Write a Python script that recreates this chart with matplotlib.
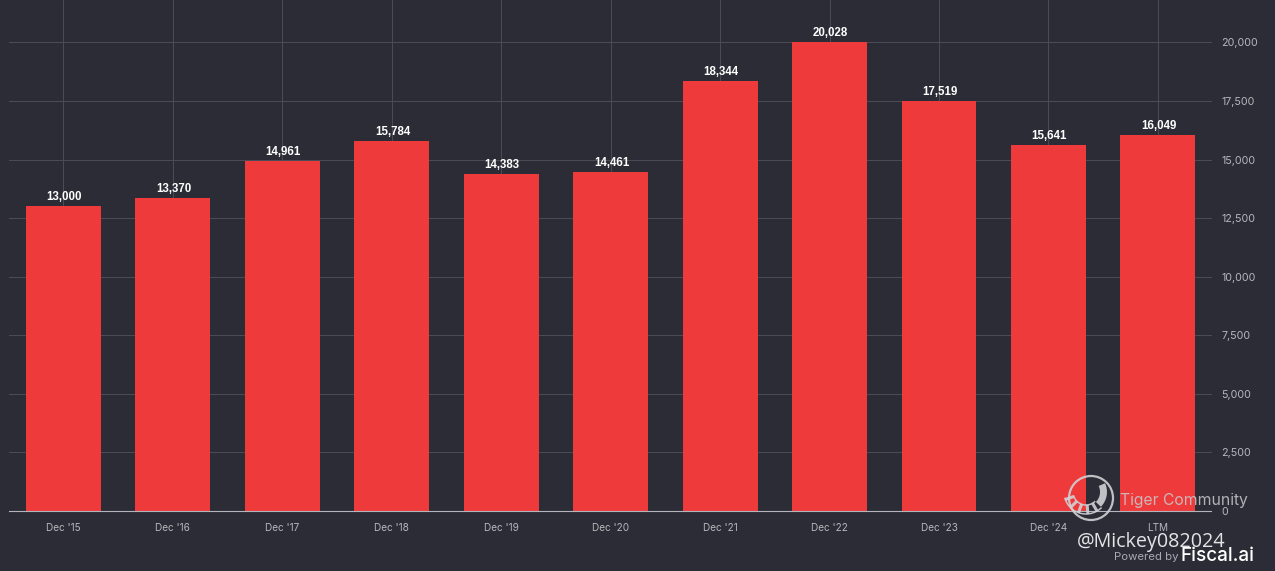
import numpy as np
import matplotlib
matplotlib.use("Agg")
import matplotlib.pyplot as plt
from matplotlib.patches import Circle, Arc

# -----------------------------
# 1. Data
# -----------------------------
periods = ["Dec '15", "Dec '16", "Dec '17", "Dec '18", "Dec '19", "Dec '20",
           "Dec '21", "Dec '22", "Dec '23", "Dec '24", "LTM"]
values = [13000, 13370, 14961, 15784, 14383, 14461, 18344, 20028, 17519, 15641, 16049]
y_ticks = [0, 2500, 5000, 7500, 10000, 12500, 15000, 17500, 20000]

# -----------------------------
# 2. Figure and axes
# -----------------------------
W, H = 1275, 571
bg = "#2b2c35"
fig = plt.figure(figsize=(W / 100, H / 100), dpi=100, facecolor=bg)
ax = fig.add_axes([9 / W, (H - 511) / H, (1229 - 9) / W, 511 / H], facecolor=bg)

xs = list(range(len(values)))
ax.bar(xs, values, width=0.685, color="#ee3a3b", zorder=2)

ax.set_xlim(-0.498, 10.65)
ax.set_ylim(0, 21814)

# gridlines stop short of the tick labels
for v in y_ticks[1:]:
    ax.plot([-0.498, 10.49], [v, v], color="#4b4c56", lw=0.7, zorder=1)
for x in xs:
    ax.plot([x, x], [0, 21814], color="#4b4c56", lw=0.7, zorder=1)
ax.plot([-0.498, 10.49], [0, 0], color="#b4b5ba", lw=0.8, zorder=3, clip_on=False)

for s in ax.spines.values():
    s.set_visible(False)
ax.set_xticks([])
ax.set_yticks([])

# -----------------------------
# 3. Text labels
# -----------------------------
for x, v in zip(xs, values):
    ax.annotate(f"{v:,}", (x, v), xytext=(1, 3), textcoords="offset pixels",
                ha="center", va="bottom", color="white", fontsize=8.3,
                fontweight="bold", family="Liberation Sans", zorder=4)

for x, p in zip(xs, periods):
    ax.annotate(p, (x, 0), xytext=(0, -17), textcoords="offset pixels",
                ha="center", va="center", color="#b6b7bc", fontsize=7.2,
                family="Inter", zorder=4)

for v in y_ticks:
    ax.annotate(f"{v:,}", (10.49, v), xytext=(10, -1), textcoords="offset pixels",
                ha="left", va="center", color="#b6b7bc", fontsize=7.7,
                family="Inter", zorder=4)

# -----------------------------
# 4. Watermark and footer
# -----------------------------
ov = fig.add_axes([0, 0, 1, 1], facecolor="none")
ov.set_xlim(0, W)
ov.set_ylim(H, 0)
ov.axis("off")

mark = "#d0d1d4"
cx, cy = 1086, 492  # centre of the tiger tail curve
ov.add_patch(Circle((1091, 498), 22, fill=False, ec=mark, lw=1.6, alpha=0.9))
ov.add_patch(Arc((cx, cy), 35, 35, theta1=-25, theta2=45, ec=mark, lw=5, alpha=0.9))
ov.add_patch(Arc((cx, cy), 26, 26, theta1=45, theta2=165, ec=mark, lw=1.1, alpha=0.9))
ov.add_patch(Arc((cx, cy), 44, 44, theta1=45, theta2=165, ec=mark, lw=1.1, alpha=0.9))
for deg in [60, 85, 110, 135, 160]:
    t = np.radians(deg)
    ov.plot([cx + 13 * np.cos(t), cx + 22 * np.cos(t)],
            [cy + 13 * np.sin(t), cy + 22 * np.sin(t)],
            color=mark, lw=2.2, alpha=0.9, solid_capstyle="butt")

ov.text(1120, 500, "Tiger Community", color="#c9cacd", alpha=0.85, fontsize=11.3,
        family="Inter", va="center", ha="left")
ov.text(1077, 542, "@Mickey082024", color="#e4e4e6", fontsize=14.2, family="Open Sans",
        va="center", ha="left")
ov.text(1114, 557, "Powered by", color="#a9aab0", fontsize=8.2, family="Inter",
        va="center", ha="left")
ov.text(1181, 556, "Fiscal.ai", color="white", fontsize=13.6, family="Inter",
        fontweight="medium", va="center", ha="left", zorder=5)

fig.savefig("out.png", dpi=100, facecolor=bg)
